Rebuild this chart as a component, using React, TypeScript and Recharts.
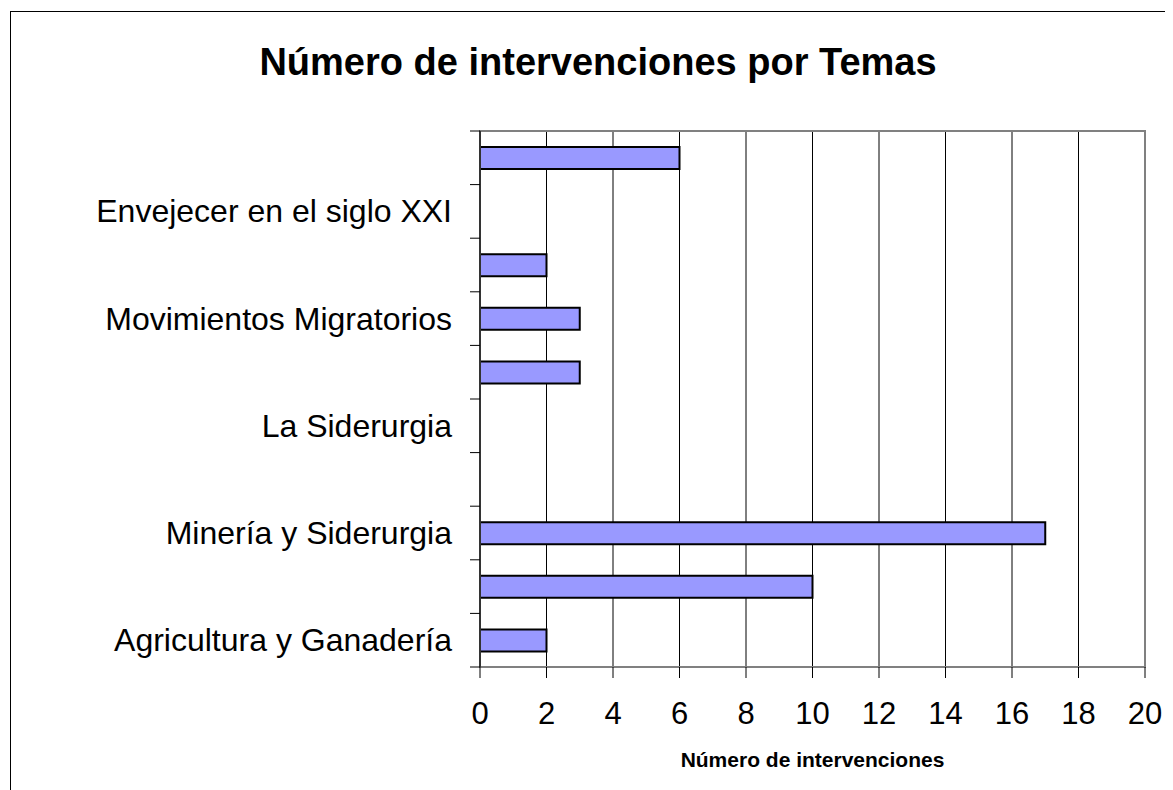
import React from 'react';
import { BarChart, Bar, XAxis, YAxis, CartesianGrid, ReferenceArea, Label } from 'recharts';

// Excel order: first category sits at the bottom of the axis.
// Every other label is skipped in the picture, so those names are never drawn.
const categories = [
  'Agricultura y Ganadería',
  'Industria',
  'Minería y Siderurgia',
  'El Carbón',
  'La Siderurgia',
  'Transportes',
  'Movimientos Migratorios',
  'Población',
  'Envejecer en el siglo XXI',
  'Otros temas',
];
const interventions = [2, 10, 17, 0, 0, 3, 3, 2, 0, 6];
const xTicks = [0, 2, 4, 6, 8, 10, 12, 14, 16, 18, 20];

const FONT = 'Arial, "Liberation Sans", sans-serif';
const CHART_W = 1165;
const CHART_H = 782;
const MARGIN = { top: 123, right: 28, bottom: 23, left: 0 };
const X_AXIS_H = 100;
const BAND = (CHART_H - MARGIN.top - MARGIN.bottom - X_AXIS_H) / categories.length;

const data = categories.map((name, i) => ({ name, value: interventions[i] }));

// Excel puts the category tick marks on the band edges and shows every other label
const CategoryTick = (props: any) => {
  const { x, y, payload, index } = props;
  const lineX1 = x + 18;
  const lineX2 = x + 28;
  return (
    <g>
      <line x1={lineX1} x2={lineX2} y1={y + BAND / 2} y2={y + BAND / 2} stroke="#000" />
      {index === categories.length - 1 && (
        <line x1={lineX1} x2={lineX2} y1={y - BAND / 2} y2={y - BAND / 2} stroke="#000" />
      )}
      {index % 2 === 0 && (
        <text x={x} y={y} dy={11} textAnchor="end" fontSize={32} fontFamily={FONT} fill="#000">
          {payload.value}
        </text>
      )}
    </g>
  );
};

const App: React.FC = () => {
  return (
    <div style={{ position: 'relative', width: CHART_W, height: CHART_H, overflow: 'hidden', fontFamily: FONT }}>
      <div
        style={{
          position: 'absolute',
          left: 2,
          top: 3,
          width: 1400,
          height: 1000,
          borderTop: '1px solid #000',
          borderLeft: '1px solid #000',
        }}
      />
      <div
        style={{
          position: 'absolute',
          left: 0,
          top: 35,
          width: 1180,
          textAlign: 'center',
          fontSize: 38,
          lineHeight: '38px',
          fontWeight: 'bold',
          color: '#000',
        }}
      >
        Número de intervenciones por Temas
      </div>
      <BarChart
        width={CHART_W}
        height={CHART_H}
        data={data}
        layout="vertical"
        margin={MARGIN}
        style={{ position: 'absolute', left: 0, top: 0 }}
      >
        <CartesianGrid horizontal={false} stroke="#000" />
        <ReferenceArea x1={0} x2={20} fill="none" stroke="#808080" strokeWidth={2} ifOverflow="visible" />
        <XAxis
          type="number"
          domain={[0, 20]}
          ticks={xTicks}
          interval={0}
          height={X_AXIS_H}
          tickSize={11}
          tickMargin={24}
          axisLine={{ stroke: '#808080', strokeWidth: 2 }}
          tickLine={{ stroke: '#000' }}
          tick={{ fill: '#000', fontSize: 31, fontFamily: FONT }}
        >
          <Label
            value="Número de intervenciones"
            position="insideBottom"
            offset={0}
            style={{ fontSize: 21, fontWeight: 'bold', fill: '#000', fontFamily: FONT }}
          />
        </XAxis>
        <YAxis
          type="category"
          dataKey="name"
          reversed
          interval={0}
          width={472}
          tickSize={10}
          tickMargin={18}
          tickLine={false}
          axisLine={{ stroke: '#333', strokeWidth: 2 }}
          tick={<CategoryTick />}
        />
        <Bar
          dataKey="value"
          barSize={22}
          fill="#9999FF"
          stroke="#000"
          strokeWidth={2}
          isAnimationActive={false}
        />
      </BarChart>
    </div>
  );
};

export default App;
